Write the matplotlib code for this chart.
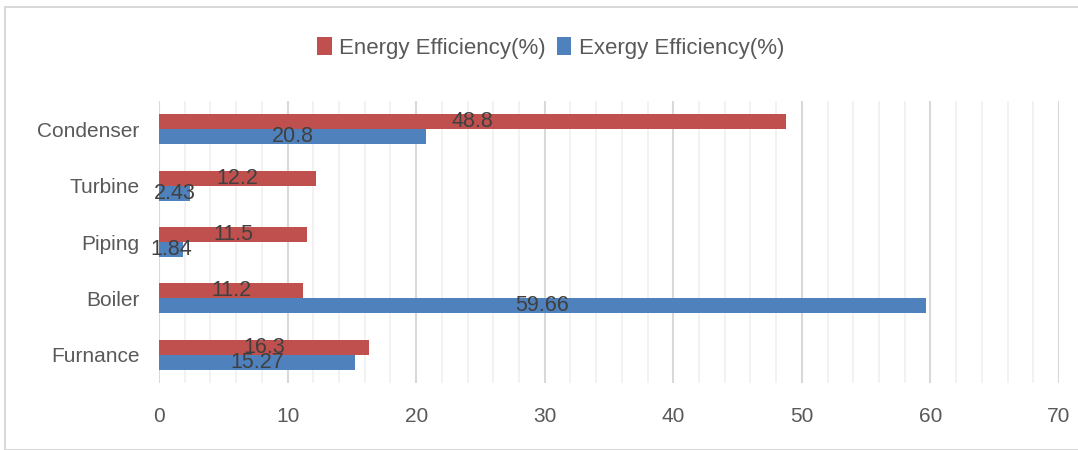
import numpy as np
import matplotlib
matplotlib.use("Agg")
import matplotlib.pyplot as plt
from matplotlib.patches import Rectangle
from matplotlib.ticker import MultipleLocator

plt.rcParams['font.family'] = ['Liberation Sans Narrow', 'Liberation Sans', 'DejaVu Sans']

components = ['Furnance', 'Boiler', 'Piping', 'Turbine', 'Condenser']
energy_eff = [16.3, 11.2, 11.5, 12.2, 48.8]
exergy_eff = [15.27, 59.66, 1.84, 2.43, 20.8]
energy_labels = ['16.3', '11.2', '11.5', '12.2', '48.8']
exergy_labels = ['15.27', '59.66', '1.84', '2.43', '20.8']

red = '#C0504D'
blue = '#4F81BD'

fig = plt.figure(figsize=(10.78, 4.5), dpi=100)
ax = fig.add_axes([159/1078, 67/450, 900/1078, 282/450])

y = np.arange(len(components))
h = 0.265
b1 = ax.barh(y + h/2, energy_eff, height=h, color=red, label='Energy Efficiency(%)', zorder=3)
b2 = ax.barh(y - h/2, exergy_eff, height=h, color=blue, label='Exergy Efficiency(%)', zorder=3)

ax.bar_label(b1, labels=energy_labels, label_type='center', fontsize=15.5, color='#404040', zorder=4)
ax.bar_label(b2, labels=exergy_labels, label_type='center', fontsize=15.5, color='#404040', zorder=4)

ax.set_xlim(0, 70)
ax.set_ylim(-0.5, 4.5)
ax.xaxis.set_major_locator(MultipleLocator(10))
ax.xaxis.set_minor_locator(MultipleLocator(2))
ax.grid(axis='x', which='minor', color='#F0F0F0', linewidth=1.2, zorder=0)
ax.grid(axis='x', which='major', color='#D9D9D9', linewidth=1.5, zorder=1)
ax.set_yticks(y)
ax.set_yticklabels(components)
ax.tick_params(axis='both', which='both', length=0, labelsize=15, labelcolor='#595959')
ax.tick_params(axis='x', pad=17)
ax.tick_params(axis='y', pad=14)
for s in ax.spines.values():
    s.set_visible(False)

handles = [b1, b2]
fig.legend(handles=handles, loc='center', bbox_to_anchor=(0.511, 0.893), ncol=2,
           frameon=False, fontsize=16, handlelength=0.65, handleheight=0.85,
           handletextpad=0.35, columnspacing=0.5, labelcolor='#595959')

# chart border
fig.add_artist(Rectangle((5/1078, 0), 1.0, 443/450, transform=fig.transFigure,
                         fill=False, edgecolor='#D9D9D9', linewidth=1.5))

fig.savefig('out.png', dpi=100)
